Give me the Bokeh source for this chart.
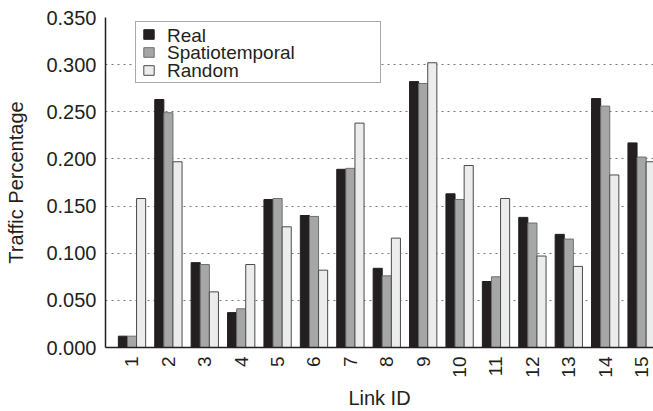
from bokeh.plotting import figure
from bokeh.models import ColumnDataSource, Legend, LegendItem, Range1d, FixedTicker, CustomJSTickFormatter
from bokeh.embed import file_html
from bokeh.resources import INLINE
from bokeh.transform import dodge
import math

links = [str(i) for i in range(1, 16)]
real = [0.012, 0.263, 0.090, 0.037, 0.157, 0.140, 0.189, 0.084, 0.282, 0.163, 0.070, 0.138, 0.120, 0.264, 0.217]
spatio = [0.012, 0.249, 0.088, 0.041, 0.158, 0.139, 0.190, 0.076, 0.280, 0.157, 0.075, 0.132, 0.115, 0.256, 0.202]
rand = [0.158, 0.197, 0.059, 0.088, 0.128, 0.082, 0.238, 0.116, 0.302, 0.193, 0.158, 0.097, 0.086, 0.183, 0.197]
series_names = ["Real", "Spatiotemporal", "Random"]
y_ticks = [0.0, 0.05, 0.1, 0.15, 0.2, 0.25, 0.3, 0.35]

src = ColumnDataSource(dict(x=list(range(1, 16)), real=real, spatio=spatio, rand=rand))

p = figure(width=653, height=411, output_backend="svg", toolbar_location=None,
           x_range=Range1d(0.272, 15.327), y_range=Range1d(0, 0.35),
           min_border_left=105, min_border_right=0, min_border_top=17, min_border_bottom=64,
           frame_width=548, frame_height=330)
p.outline_line_color = None
p.background_fill_color = "white"

w = 0.25
r1 = p.vbar(x=dodge("x", -w, range=p.x_range), top="real", width=w, source=src,
            fill_color="#231f20", line_color="#231f20", line_width=1)
r2 = p.vbar(x="x", top="spatio", width=w, source=src,
            fill_color="#a5a6a6", line_color="#6e6e6e", line_width=1)
r3 = p.vbar(x=dodge("x", w, range=p.x_range), top="rand", width=w, source=src,
            fill_color="#ececec", line_color="#4a4a4a", line_width=1)
# invisible renderer used only for legend frame / text-only entries
dummy = p.rect(x=[], y=[], width=1, height=1, fill_alpha=0, line_alpha=0)

font = "Liberation Sans"
p.xaxis.ticker = FixedTicker(ticks=list(range(1, 16)))
p.xaxis.formatter = CustomJSTickFormatter(args=dict(labels=links), code="return labels[Math.round(tick)-1];")
p.xaxis.major_label_orientation = math.pi / 2
p.xaxis.axis_label = "Link ID"
p.yaxis.ticker = FixedTicker(ticks=y_ticks)
p.yaxis.formatter = CustomJSTickFormatter(code="return tick.toFixed(3);")
p.yaxis.axis_label = "Traffic Percentage"

for ax in (p.xaxis, p.yaxis):
    ax.major_tick_line_color = None
    ax.minor_tick_line_color = None
    ax.major_tick_out = 0
    ax.major_tick_in = 0
    ax.axis_line_color = "#231f20"
    ax.axis_line_width = 1.5
    ax.major_label_text_font = font
    ax.major_label_text_font_size = "20px"
    ax.major_label_text_color = "#231f20"
    ax.axis_label_text_font = font
    ax.axis_label_text_font_size = "20px"
    ax.axis_label_text_font_style = "normal"
    ax.axis_label_text_color = "#231f20"
    ax.major_label_standoff = 9
p.xaxis.major_label_text_font_size = "19px"
p.xaxis.axis_label_standoff = 6
p.yaxis.axis_label_standoff = 16

p.xgrid.grid_line_color = None
p.ygrid.grid_line_color = "#777777"
p.ygrid.grid_line_dash = "2 4"
p.ygrid.grid_line_width = 1.2

# legend frame
frame_leg = Legend(items=[LegendItem(label=" ", renderers=[dummy])], location=(30, 264))
frame_leg.border_line_color = "#555555"
frame_leg.border_line_width = 1.5
frame_leg.background_fill_color = "white"
frame_leg.background_fill_alpha = 1
frame_leg.label_text_font_size = "1px"
frame_leg.glyph_width = 1
frame_leg.glyph_height = 1
frame_leg.label_width = 243
frame_leg.label_height = 60
frame_leg.label_standoff = 0
frame_leg.padding = 0
frame_leg.margin = 0
p.add_layout(frame_leg, "center")

# swatches
sw_leg = Legend(items=[LegendItem(label=" ", renderers=[r]) for r in (r1, r2, r3)],
                location=(37, 271))
sw_leg.border_line_color = None
sw_leg.background_fill_alpha = 0
sw_leg.label_text_font_size = "1px"
sw_leg.glyph_width = 13
sw_leg.glyph_height = 12
sw_leg.label_width = 0
sw_leg.label_height = 12
sw_leg.label_standoff = 0
sw_leg.spacing = 6
sw_leg.padding = 0
sw_leg.margin = 0
p.add_layout(sw_leg, "center")

# labels
for name, ypos in zip(series_names, [300.5, 283, 265]):
    lg = Legend(items=[LegendItem(label=name, renderers=[dummy])], location=(62, ypos))
    lg.border_line_color = None
    lg.background_fill_alpha = 0
    lg.label_text_font = font
    lg.label_text_font_size = "19px"
    lg.label_text_color = "#231f20"
    lg.glyph_width = 0
    lg.glyph_height = 1
    lg.label_standoff = 0
    lg.padding = 0
    lg.margin = 0
    p.add_layout(lg, "center")

open("out.html", "w").write(file_html(p, INLINE))
